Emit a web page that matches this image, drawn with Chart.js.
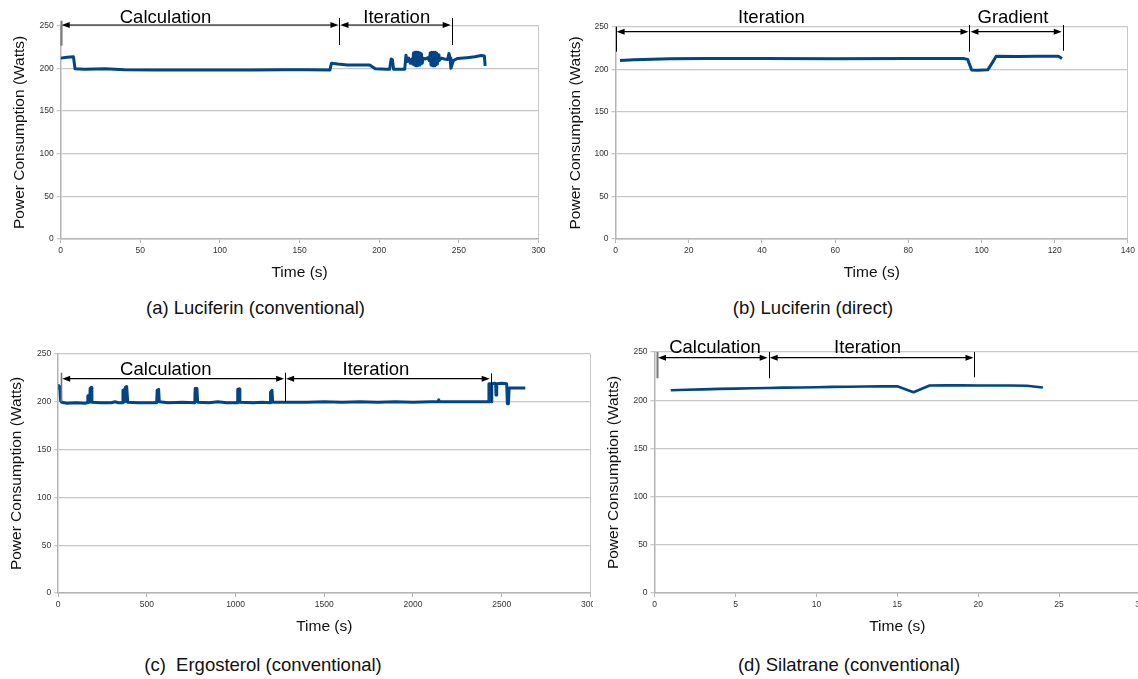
<!DOCTYPE html>
<html>
<head>
<meta charset="utf-8">
<script src="https://cdn.jsdelivr.net/npm/chart.js@4.4.1/dist/chart.umd.min.js"></script>
<style>
  html, body { margin: 0; padding: 0; background: #fff; }
  body { position: relative; width: 1138px; height: 679px; overflow: hidden; font-family: 'Liberation Sans', Arial, sans-serif; }
  .painel { position: absolute; overflow: hidden; }
  .painel canvas { display: block; }
  .legenda { position: absolute; transform: translate(-50%, -50%); font-size: 18.5px; color: #111; white-space: pre; }
</style>
</head>
<body>
<div class="painel" style="left:0;top:0;width:570px;height:290px"><canvas id="chart-a" width="570" height="290"></canvas></div>
<div class="painel" style="left:560px;top:0;width:578px;height:290px"><canvas id="chart-b" width="578" height="290"></canvas></div>
<div class="painel" style="left:0;top:340px;width:593px;height:300px"><canvas id="chart-c" width="610" height="300"></canvas></div>
<div class="painel" style="left:600px;top:340px;width:538px;height:300px"><canvas id="chart-d" width="560" height="300"></canvas></div>

<div class="legenda" style="left:255.5px;top:308px">(a) Luciferin (conventional)</div>
<div class="legenda" style="left:813px;top:308px">(b) Luciferin (direct)</div>
<div class="legenda" style="left:263px;top:665px">(c)  Ergosterol (conventional)</div>
<div class="legenda" style="left:849px;top:665px">(d) Silatrane (conventional)</div>

<script>
// =============================================
// Dados (tempo em s, potência em W)
// =============================================

// (a) Luciferin (conventional)
const aTime = [0, 4, 8, 9, 15, 28, 40, 60, 80, 100, 120, 140, 155, 169, 170, 174, 180, 190, 194, 197.5,
  205, 206.5, 207.5, 208.3, 209, 216, 216.8, 217.5, 218.5, 219.5, 220.5, 221, 221.5, 222, 222.5, 223,
  223.5, 224, 224.5, 225, 225.5, 226, 226.5, 227, 227.5, 229, 230.5, 231.5, 232, 232.5, 233, 233.5, 234,
  234.5, 235, 235.5, 236, 236.5, 237, 237.5, 239, 241, 243, 243.8, 244.5, 245, 246.5, 249, 255, 260,
  264, 266, 266.5];
const aPower = [212, 213, 213.5, 199.5, 199, 199.5, 198.5, 198, 198, 198, 198, 198.5, 198.5, 198, 206, 205, 204, 204, 204, 199.5,
  199, 199, 211, 210, 199, 199, 215.5, 208, 212, 206, 211, 205, 218, 204, 219, 203,
  219, 203, 219, 204, 218, 205, 217, 206, 212, 211, 212.5, 209, 218, 204, 219, 203, 219,
  203, 219, 204, 218, 205, 216, 209, 212, 211, 210.5, 217.5, 212, 200, 209, 211.5, 212.5, 213.5,
  215, 214.5, 203];
const aPhases = ['Calculation', 'Iteration'];
const aEdges = [0, 175, 245.5];

// (b) Luciferin (direct)
const bTime = [1.2, 5, 10, 15, 25, 40, 60, 80, 95, 96.2, 97.3, 99, 101.7, 103, 104, 110, 115, 120, 121, 122];
const bPower = [210.3, 211, 211.8, 212.3, 212.5, 212.6, 212.4, 212.5, 212.6, 211.5, 199, 198.8, 199.2, 208, 215.2, 215, 215.1, 215.3, 215.2, 212.5];
const bPhases = ['Iteration', 'Gradient'];
const bEdges = [0, 96.7, 122.2];

// (c) Ergosterol (conventional)
const cTime = [0, 3, 8, 14, 20, 50, 100, 150, 165, 167, 175, 178, 180, 186, 190, 240, 300, 320, 340, 362,
  365, 372, 376, 378, 386, 392, 450, 500, 555, 558, 566, 570, 620, 700, 770, 772, 782, 786, 850, 900,
  950, 1010, 1012, 1020, 1024, 1100, 1150, 1195, 1197, 1205, 1209, 1300, 1400, 1500, 1600, 1700, 1800,
  1900, 2000, 2100, 2140, 2145, 2150, 2250, 2350, 2426, 2428, 2432, 2436, 2440, 2444, 2460, 2466, 2468,
  2472, 2500, 2528, 2532, 2538, 2542, 2560, 2600, 2633];
const cPower = [214, 217, 216, 201, 199.5, 198.5, 199, 198.5, 199, 206, 207, 199.5, 214, 215, 199.5, 199, 199, 200, 199, 199,
  212, 213, 200, 215, 216, 199.5, 199, 199, 199, 212, 213, 200, 199, 199.5, 199, 214, 214, 199.5, 199, 200,
  199, 199, 213, 213.5, 199.5, 199, 199.5, 199, 210, 212, 199.5, 199.5, 199.5, 200, 199.5, 200, 199.5,
  200, 199.5, 200, 200, 202, 200, 200, 200, 200, 219, 200, 219, 200, 219, 219.5, 219, 207,
  219, 219.5, 219, 198, 198, 214.5, 214.5, 214.5, 214.5];
const cPhases = ['Calculation', 'Iteration'];
const cEdges = [17, 1279, 2438];

// (d) Silatrane (conventional)
const dTime = [1, 2, 3, 4, 5, 6, 7, 8, 9, 10, 11, 12, 13, 14, 15, 16, 17, 18, 19, 20, 21, 22, 23, 24];
const dPower = [210.3, 210.8, 211.2, 211.7, 212.0, 212.4, 212.7, 213.0, 213.2, 213.5, 213.8, 214.0,
  214.2, 214.3, 214.4, 208.2, 215.3, 215.4, 215.4, 215.3, 215.3, 215.2, 215.0, 213.2];
const dPhases = ['Calculation', 'Iteration'];
const dEdges = [0.15, 7.05, 19.77];

// =============================================
// Plugin: setas de fase (Calculation / Iteration ...)
// =============================================

function arrowHead(ctx, x, y, dir) {
  // dir = 1 -> ponta para a esquerda, -1 -> ponta para a direita
  ctx.beginPath();
  ctx.moveTo(x, y);
  ctx.lineTo(x + dir * 8, y - 3);
  ctx.lineTo(x + dir * 8, y + 3);
  ctx.closePath();
  ctx.fill();
}

const phasePlugin = {
  id: 'phases',
  afterDraw(chart, args, opts) {
    if (!opts.edges) return;
    const ctx = chart.ctx;
    const px = v => chart.scales.x.getPixelForValue(v);
    const top = chart.chartArea.top;
    ctx.save();

    opts.edges.forEach((e, i) => {
      const m = opts.marks[i];
      const first = i === 0 && opts.firstColor;
      ctx.strokeStyle = first ? opts.firstColor : '#000';
      ctx.lineWidth = first ? opts.firstWidth : 1;
      const xx = Math.round(px(e)) + 0.5;
      ctx.beginPath();
      ctx.moveTo(xx, top + m[0]);
      ctx.lineTo(xx, top + m[1]);
      ctx.stroke();
    });

    const y = top + opts.arrowY;
    ctx.fillStyle = '#000';
    ctx.strokeStyle = '#000';
    ctx.lineWidth = 1.2;
    ctx.font = "18.5px 'Liberation Sans', Arial, sans-serif";
    ctx.textAlign = 'center';
    ctx.textBaseline = 'alphabetic';
    for (let i = 0; i < opts.edges.length - 1; i++) {
      const x1 = px(opts.edges[i]) + 1;
      const x2 = px(opts.edges[i + 1]) - 1;
      ctx.beginPath();
      ctx.moveTo(x1 + 6, y);
      ctx.lineTo(x2 - 6, y);
      ctx.stroke();
      arrowHead(ctx, x1, y, 1);
      arrowHead(ctx, x2, y, -1);
      ctx.fillText(opts.labels[i], px(opts.labelAt[i]), top + opts.textY);
    }
    ctx.restore();
  }
};

// =============================================
// Montar cada gráfico
// =============================================

Chart.defaults.font.family = "'Liberation Sans', Arial, sans-serif";
Chart.defaults.color = '#333';

function makeChart(id, c) {
  const canvas = document.getElementById(id);
  const W = canvas.width, H = canvas.height;
  const data = c.time.map((t, i) => ({ x: t, y: c.power[i] }));
  const gridColor = '#c8c8c8';

  return new Chart(canvas, {
    type: 'line',
    data: {
      datasets: [{
        data,
        borderColor: '#004586',
        borderWidth: c.lineWidth || 3,
        pointRadius: 0,
        tension: 0,
        borderJoinStyle: 'round',
        fill: false,
      }]
    },
    options: {
      responsive: false,
      animation: false,
      devicePixelRatio: 1,
      parsing: false,
      layout: { padding: { left: 0, top: c.area.top, right: W - c.area.right, bottom: 0 } },
      plugins: {
        legend: { display: false },
        tooltip: { enabled: false },
        phases: c.phases,
      },
      scales: {
        x: {
          type: 'linear',
          min: 0,
          max: c.xMax,
          afterFit: s => { s.height = H - c.area.bottom; },
          ticks: { stepSize: c.xStep, font: { size: 8.5 }, padding: 3, maxRotation: 0, autoSkip: false, callback: v => String(v) },
          grid: {
            color: ctx => (ctx.tick && ctx.tick.value === c.xMax ? gridColor : 'rgba(0,0,0,0)'),
            tickColor: '#b4b4b4',
            tickLength: 4,
          },
          border: { color: '#b4b4b4', width: 1.5 },
          title: {
            display: true,
            text: 'Time (s)',
            color: '#111',
            font: { size: 15.5 },
            padding: { top: 0, bottom: H - c.xTitleY - 9.3 },
          },
        },
        y: {
          min: 0,
          max: 250,
          afterFit: s => { s.width = c.area.left; },
          ticks: { stepSize: 50, font: { size: 8.5 }, padding: 3, callback: v => String(v) },
          grid: { color: gridColor, tickColor: gridColor, tickLength: 4, lineWidth: 1.3 },
          border: { color: '#b4b4b4', width: 1.5 },
          title: {
            display: true,
            text: 'Power Consumption (Watts)',
            color: '#111',
            font: { size: 15.5 },
            padding: { top: c.yTitleX - 9.3, bottom: 0 },
          },
        },
      },
    },
    plugins: [phasePlugin],
  });
}

document.addEventListener('DOMContentLoaded', () => {
  makeChart('chart-a', {
    time: aTime, power: aPower, xMax: 300, xStep: 50,
    area: { left: 60.7, top: 25.7, right: 538.5, bottom: 239 },
    yTitleX: 20, xTitleY: 273,
    phases: {
      labels: aPhases, edges: aEdges, labelAt: [65.8, 211],
      arrowY: -0.7, textY: -3,
      marks: [[-5, 20], [-7.7, 19.3], [-7.7, 19.3]],
      firstColor: '#808080', firstWidth: 2.2,
    },
  });

  makeChart('chart-b', {
    time: bTime, power: bPower, xMax: 140, xStep: 20,
    area: { left: 55.6, top: 26.7, right: 568.9, bottom: 239 },
    yTitleX: 16, xTitleY: 273,
    phases: {
      labels: bPhases, edges: bEdges, labelAt: [42.6, 108.6],
      arrowY: 5, textY: -4,
      marks: [[0, 25], [-1.7, 25], [-1.7, 24]],
    },
  });

  makeChart('chart-c', {
    time: cTime, power: cPower, xMax: 3000, xStep: 500,
    area: { left: 58.2, top: 14, right: 590.4, bottom: 253 },
    yTitleX: 16.6, xTitleY: 287,
    phases: {
      labels: cPhases, edges: cEdges, labelAt: [607, 1791],
      arrowY: 24.7, textY: 21,
      marks: [[18.7, 47.7], [18.7, 47.7], [19.3, 47.7]],
      firstColor: '#777', firstWidth: 1.6,
    },
  });

  makeChart('chart-d', {
    time: dTime, power: dPower, xMax: 30, xStep: 5, lineWidth: 2.6,
    area: { left: 54.6, top: 12, right: 540, bottom: 253 },
    yTitleX: 14, xTitleY: 287,
    phases: {
      labels: dPhases, edges: dEdges, labelAt: [3.73, 13.16],
      arrowY: 5.7, textY: 1,
      marks: [[0, 26.3], [0, 26.3], [0, 25.3]],
      firstColor: '#777', firstWidth: 2,
    },
  });
});
</script>
</body>
</html>
